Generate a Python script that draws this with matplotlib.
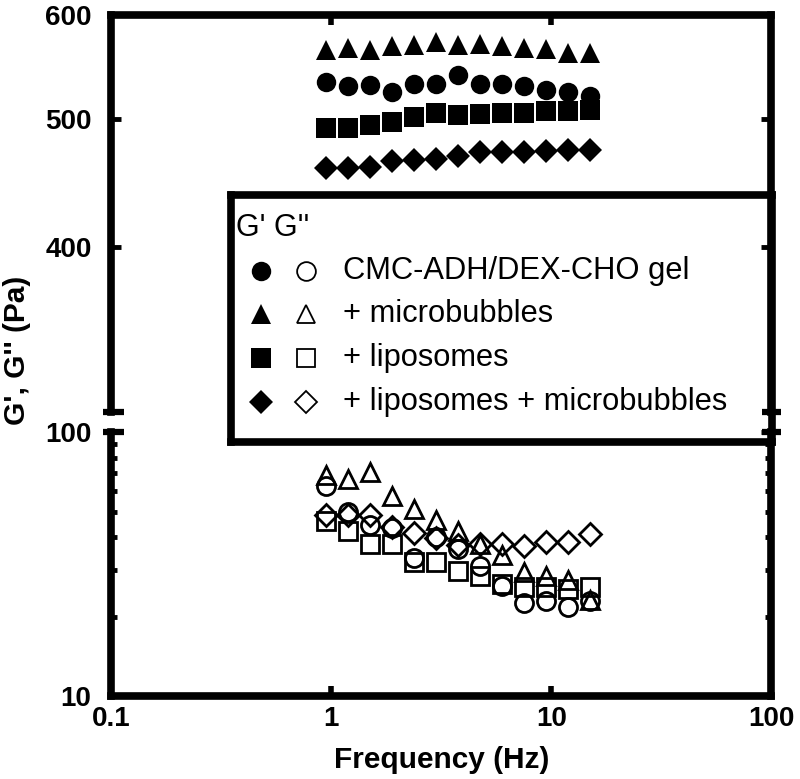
import matplotlib.pyplot as plt
from matplotlib.ticker import NullLocator, NullFormatter

plt.rcParams['font.family'] = ['Liberation Sans', 'DejaVu Sans']

# frequencia (Hz)
freq = [0.95, 1.19, 1.50, 1.89, 2.38, 3.00, 3.77, 4.75, 5.98, 7.53, 9.48, 11.9, 15.0]

# G' (Pa) - simbolos cheios
g1_gel = [534, 530, 531, 525, 532, 532, 540, 532, 532, 530, 526, 525, 521]
g1_mb = [564, 566, 564, 568, 569, 572, 569, 570, 568, 566, 565, 562, 562]
g1_lipo = [493, 493, 495, 498, 502, 506, 504, 505, 506, 506, 507, 507, 508]
g1_lipo_mb = [459, 459, 460, 465, 466, 467, 469, 472, 472, 472, 473, 474, 474]

# G'' (Pa) - simbolos vazios
g2_gel = [62.2, 50.0, 44.6, 43.4, 33.2, 40.1, 36.2, 31.0, 26.1, 22.6, 22.9, 21.7, 22.9]
g2_mb = [69.0, 66.5, 70.6, 57.4, 51.2, 46.5, 42.0, 37.8, 34.3, 29.4, 28.6, 27.5, 23.1]
g2_lipo = [45.9, 42.3, 37.8, 37.5, 32.3, 32.3, 29.8, 28.6, 26.5, 25.8, 25.8, 25.5, 25.8]
g2_lipo_mb = [48.6, 48.6, 48.3, 43.8, 41.6, 39.8, 37.2, 37.8, 37.8, 37.0, 38.2, 38.2, 41.0]

leg_labels = ['CMC-ADH/DEX-CHO gel', '+ microbubbles', '+ liposomes',
              '+ liposomes + microbubbles']
leg_markers = ['o', '^', 's', 'D']

x_ticks = [0.1, 1, 10, 100]
x_ticklabels = ['0.1', '1', '10', '100']
top_yticks = [400, 500, 600]
bot_yticks = [10, 100]

SP = 5.5  # espessura dos eixos

fig = plt.figure(figsize=(8, 7.79), dpi=100)
ax_top = fig.add_axes([0.13875, 0.4711, 0.8256, 0.5096])
ax_bot = fig.add_axes([0.13875, 0.1065, 0.8256, 0.3389])
lax = fig.add_axes([231 / 800, 337 / 779, 540.5 / 800, 247 / 779], zorder=-1)
for ax in (ax_top, ax_bot):
    ax.set_facecolor('none')

# G' no eixo de cima
filled = dict(linestyle='none', color='black', markeredgewidth=0)
ax_top.plot(freq, g1_gel, marker='o', markersize=14, **filled)
ax_top.plot(freq, g1_mb, marker='^', markersize=14.5, **filled)
ax_top.plot(freq, g1_lipo, marker='s', markersize=14.5, **filled)
ax_top.plot(freq, g1_lipo_mb, marker='D', markersize=12.2, **filled)

# G'' no eixo de baixo
vazio = dict(linestyle='none', color='black', markerfacecolor='none', markeredgewidth=2)
ax_bot.plot(freq, g2_gel, marker='o', markersize=13, **vazio)
ax_bot.plot(freq, g2_mb, marker='^', markersize=13, **vazio)
ax_bot.plot(freq, g2_lipo, marker='s', markersize=13, **vazio)
ax_bot.plot(freq, g2_lipo_mb, marker='D', markersize=11, **vazio)

# marcas de quebra do eixo y
for ax, yb in ((ax_top, 300), (ax_bot, 100)):
    tr = ax.get_yaxis_transform()
    ax.plot([-0.012, 0.020], [yb, yb], transform=tr, color='black', lw=4.5,
            clip_on=False, solid_capstyle='butt')
    ax.plot([0.986, 1.014], [yb, yb], transform=tr, color='black', lw=4.5,
            clip_on=False, solid_capstyle='butt')

for ax in (ax_top, ax_bot):
    ax.set_xscale('log')
    ax.set_yscale('log')
    ax.set_xlim(0.1, 100)
    ax.xaxis.set_minor_locator(NullLocator())
    ax.xaxis.set_minor_formatter(NullFormatter())
    for s in ax.spines.values():
        s.set_linewidth(SP)

ax_top.set_ylim(300, 600)
ax_bot.set_ylim(10, 100)
ax_top.spines['bottom'].set_visible(False)
ax_bot.spines['top'].set_visible(False)

ax_top.set_yticks(top_yticks, labels=[str(v) for v in top_yticks], fontweight='bold')
ax_top.yaxis.set_minor_locator(NullLocator())
ax_top.yaxis.set_minor_formatter(NullFormatter())
ax_top.set_xticks([1, 10], labels=['', ''])
ax_top.tick_params(axis='x', which='major', direction='in', length=7, width=4,
                   top=True, bottom=False, labelbottom=False)

ax_bot.set_yticks(bot_yticks, labels=[str(v) for v in bot_yticks], fontweight='bold')
ax_bot.yaxis.set_minor_formatter(NullFormatter())
ax_bot.set_xticks(x_ticks, labels=x_ticklabels, fontweight='bold')
ax_bot.tick_params(axis='x', which='major', direction='in', length=7, width=4,
                   top=False, bottom=True, labelsize=20, pad=7)
ax_bot.tick_params(axis='y', which='minor', direction='in', length=4, width=3.5,
                   left=True, right=True)

for ax in (ax_top, ax_bot):
    ax.tick_params(axis='y', which='major', direction='in', length=7, width=3.5,
                   left=True, right=True, labelsize=20, pad=14)

fig.text(0.5515, 0.0244, 'Frequency (Hz)', fontsize=21.5, fontweight='bold',
         ha='center', va='center')
fig.text(0.021, 0.55, "G', G'' (Pa)", fontsize=21.5, fontweight='bold',
         rotation=90, ha='center', va='center')

# legenda desenhada a mao
lax.set_xlim(0, 1)
lax.set_ylim(0, 1)
lax.set_xticks([])
lax.set_yticks([])
for s in lax.spines.values():
    s.set_linewidth(SP)
lax.text(0.0093, 0.866, "G' G''", fontsize=22, ha='left', va='center')
for i, (lab, mk) in enumerate(zip(leg_labels, leg_markers)):
    yy = 0.694 - 0.177 * i
    ms = 12.2 if mk == 'D' else 14
    lax.plot([0.0555], [yy], marker=mk, markersize=ms, color='black',
             markeredgewidth=0, linestyle='none')
    lax.plot([0.1388], [yy], marker=mk, markersize=ms - 0.5, color='black',
             markerfacecolor='none', markeredgewidth=1.3, linestyle='none')
    lax.text(0.207, yy, lab, fontsize=22.2, ha='left', va='center')

fig.savefig('out.png', dpi=100)
